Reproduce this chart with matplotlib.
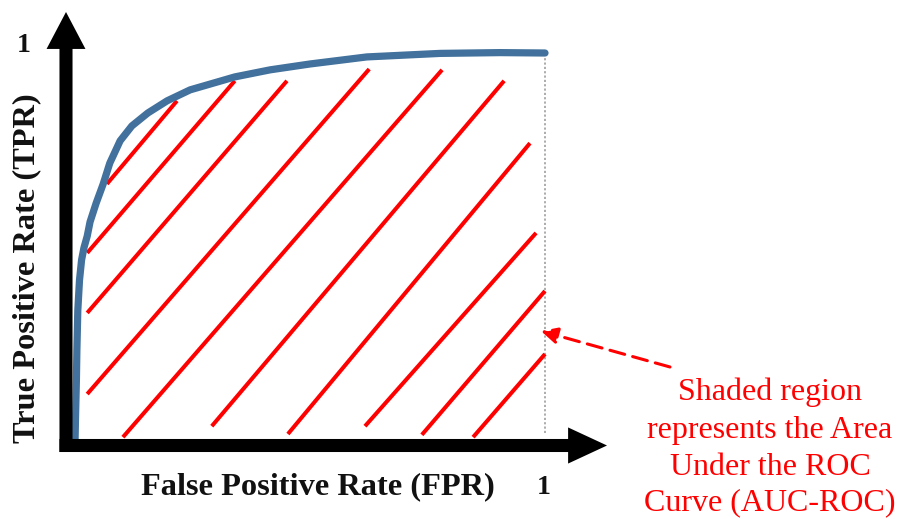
import matplotlib
matplotlib.use("Agg")
import matplotlib.pyplot as plt

# ---- data (ROC units) ----
fpr = [0.0, 0.001, 0.003, 0.004, 0.006, 0.0096, 0.014, 0.019, 0.026, 0.032, 0.045, 0.060,
       0.074, 0.096, 0.121, 0.155, 0.196, 0.245, 0.340, 0.415, 0.50, 0.621, 0.777, 0.904, 1.0]
tpr = [0.005, 0.064, 0.166, 0.242, 0.344, 0.421, 0.472, 0.503, 0.533, 0.569, 0.617, 0.666,
       0.719, 0.776, 0.814, 0.847, 0.878, 0.906, 0.939, 0.957, 0.972, 0.990, 0.999, 1.001, 1.0]

# hatch lines under the curve (start / end points)
hatch_x0 = [0.068, 0.026, 0.026, 0.026, 0.102, 0.291, 0.453, 0.617, 0.738, 0.847]
hatch_y0 = [0.666, 0.490, 0.337, 0.130, 0.020, 0.048, 0.028, 0.048, 0.026, 0.020]
hatch_x1 = [0.217, 0.340, 0.451, 0.626, 0.781, 0.913, 0.968, 0.981, 1.000, 1.000]
hatch_y1 = [0.878, 0.929, 0.929, 0.959, 0.957, 0.929, 0.770, 0.541, 0.393, 0.232]

x_label = "False Positive Rate (FPR)"
y_label = "True Positive Rate (TPR)"
tick_one = "1"
ann_lines = ["Shaded region", "represents the Area", "Under the ROC", "Curve (AUC-ROC)"]

# ---- figure ----
W, H = 902, 519
fig = plt.figure(figsize=(W / 100, H / 100), dpi=100)
ax = fig.add_axes([0, 0, 1, 1])
# pixel mapping: FPR 0->x=75, 1->x=545 ; TPR 0->y=445, 1->y=53
ax.set_xlim(-75 / 470, (W - 75) / 470)
ax.set_ylim(-(H - 445) / 392, 445 / 392)
ax.axis("off")

serif = ["Liberation Serif", "DejaVu Serif"]
red = "#FF0000"


def px_x(p):
    return (p - 75) / 470


def px_y(p):
    return (445 - p) / 392


# hatch lines
for x0, y0, x1, y1 in zip(hatch_x0, hatch_y0, hatch_x1, hatch_y1):
    ax.plot([x0, x1], [y0, y1], color=red, lw=2.9, solid_capstyle="butt", zorder=2)

# dotted vertical at FPR=1
ax.plot([1.0, 1.0], [0.03, 0.997], color="#A6A6A6", lw=1.3, ls=(0, (1.2, 1.2)), zorder=1)

# ROC curve
ax.plot(fpr, tpr, color="#41719C", lw=5.2, solid_capstyle="round", solid_joinstyle="round", zorder=3)

# axes arrows
ax.annotate("", xy=(px_x(66), px_y(12)), xytext=(px_x(66), px_y(452)),
            arrowprops=dict(arrowstyle="simple,head_length=26.6,head_width=28,tail_width=9.4",
                            mutation_scale=1, color="black", shrinkA=0, shrinkB=0, lw=0),
            zorder=5)
ax.annotate("", xy=(px_x(607), px_y(445.5)), xytext=(px_x(59.5), px_y(445.5)),
            arrowprops=dict(arrowstyle="simple,head_length=28,head_width=26,tail_width=9.4",
                            mutation_scale=1, color="black", shrinkA=0, shrinkB=0, lw=0),
            zorder=5)

# labels
ax.text(px_x(318), px_y(487), x_label, fontsize=23.3, fontweight="bold", family=serif,
        ha="center", va="center", color="#111111")
ax.text(px_x(27), px_y(268), y_label, fontsize=23.3, fontweight="bold", family=serif,
        rotation=90, ha="center", va="center", color="#111111")
ax.text(px_x(24), px_y(46), tick_one, fontsize=20, fontweight="bold", family=serif,
        ha="center", va="center", color="#111111")
ax.text(px_x(544), px_y(487), tick_one, fontsize=20, fontweight="bold", family=serif,
        ha="center", va="center", color="#111111")

# annotation
baselines = [400, 438, 475, 510]
for line, b in zip(ann_lines, baselines):
    ax.text(px_x(770), px_y(b), line, fontsize=23, family=serif, color=red,
            ha="center", va="baseline")

ax.annotate("", xy=(px_x(541), px_y(331)), xytext=(px_x(670), px_y(367)),
            arrowprops=dict(arrowstyle="-|>,head_length=0.7,head_width=0.35",
                            mutation_scale=14, color=red, lw=2.2,
                            linestyle=(0, (5, 2.7)), shrinkA=0, shrinkB=0),
            zorder=4)

fig.savefig("out.png", dpi=100, facecolor="white")
